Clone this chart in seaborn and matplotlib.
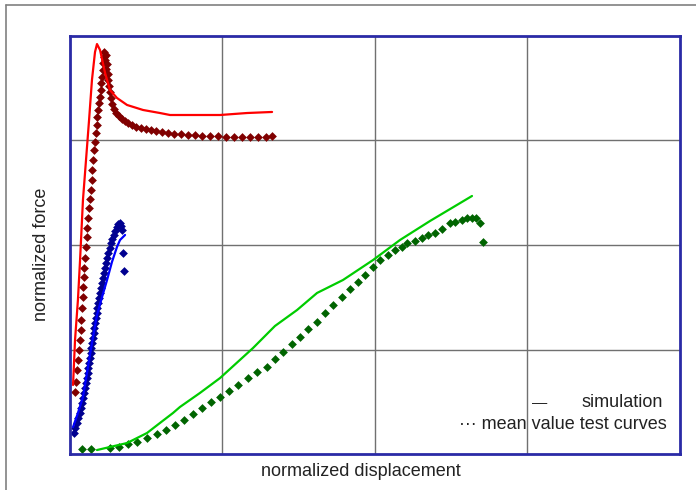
import matplotlib
matplotlib.use("Agg")
import matplotlib.pyplot as plt
import seaborn as sns
from matplotlib.lines import Line2D

# ---- data (normalized units; grid every 1.0) ----
red_sim_x = [0.020, 0.033, 0.052, 0.066, 0.085, 0.105, 0.125, 0.144, 0.164, 0.177, 0.197, 0.230,
             0.262, 0.308, 0.374, 0.479, 0.590, 0.656, 0.984, 1.161, 1.325]
red_sim_y = [0.660, 1.091, 1.474, 1.857, 2.431, 2.813, 3.196, 3.579, 3.847, 3.923, 3.866, 3.646,
             3.483, 3.407, 3.340, 3.292, 3.263, 3.244, 3.244, 3.263, 3.273]

red_test_x = [0.033, 0.039, 0.046, 0.052, 0.059, 0.066, 0.072, 0.072, 0.079, 0.085, 0.085, 0.092,
              0.092, 0.098, 0.105, 0.111, 0.111, 0.118, 0.125, 0.131, 0.138, 0.144, 0.144, 0.151,
              0.157, 0.164, 0.170, 0.177, 0.177, 0.184, 0.190, 0.197, 0.203, 0.203, 0.210, 0.216,
              0.216, 0.223, 0.223, 0.236, 0.230, 0.243, 0.236, 0.249, 0.249, 0.256, 0.262, 0.269,
              0.275, 0.289, 0.302, 0.321, 0.341, 0.361, 0.380, 0.407, 0.433, 0.466, 0.498, 0.531,
              0.564, 0.603, 0.643, 0.682, 0.728, 0.774, 0.820, 0.866, 0.918, 0.970, 1.023, 1.075,
              1.128, 1.180, 1.233, 1.285, 1.325]
red_test_y = [0.593, 0.689, 0.804, 0.900, 0.995, 1.091, 1.187, 1.282, 1.397, 1.502, 1.598, 1.694,
              1.780, 1.876, 1.981, 2.077, 2.163, 2.258, 2.354, 2.440, 2.526, 2.622, 2.718, 2.813,
              2.909, 2.986, 3.072, 3.148, 3.225, 3.292, 3.359, 3.416, 3.483, 3.550, 3.608, 3.675,
              3.742, 3.799, 3.847, 3.818, 3.770, 3.732, 3.684, 3.636, 3.579, 3.522, 3.464, 3.407,
              3.349, 3.301, 3.263, 3.234, 3.206, 3.187, 3.167, 3.148, 3.129, 3.120, 3.110, 3.100,
              3.091, 3.081, 3.072, 3.062, 3.062, 3.053, 3.053, 3.043, 3.043, 3.043, 3.033, 3.033,
              3.033, 3.033, 3.033, 3.033, 3.043]

blue_sim_x = [0.020, 0.052, 0.085, 0.118, 0.144, 0.177, 0.210, 0.243, 0.275, 0.308, 0.328, 0.361]
blue_sim_y = [0.258, 0.392, 0.545, 0.833, 1.062, 1.330, 1.502, 1.665, 1.837, 1.981, 2.048, 2.096]

blue_test_x = [0.026, 0.033, 0.046, 0.052, 0.066, 0.072, 0.079, 0.085, 0.092, 0.098, 0.105, 0.111,
               0.118, 0.118, 0.125, 0.131, 0.138, 0.138, 0.144, 0.151, 0.157, 0.157, 0.164, 0.170,
               0.177, 0.177, 0.184, 0.190, 0.197, 0.203, 0.210, 0.216, 0.223, 0.230, 0.236, 0.243,
               0.249, 0.262, 0.269, 0.275, 0.289, 0.295, 0.308, 0.315, 0.328, 0.334, 0.341, 0.348,
               0.354]
blue_test_y = [0.201, 0.249, 0.297, 0.344, 0.392, 0.440, 0.488, 0.536, 0.584, 0.632, 0.679, 0.727,
               0.775, 0.823, 0.871, 0.919, 0.967, 1.014, 1.062, 1.110, 1.158, 1.206, 1.254, 1.301,
               1.349, 1.397, 1.445, 1.493, 1.541, 1.589, 1.636, 1.684, 1.732, 1.780, 1.828, 1.876,
               1.923, 1.971, 2.019, 2.057, 2.096, 2.134, 2.172, 2.201, 2.211, 2.182, 2.144, 1.923,
               1.751]

green_sim_x = [0.177, 0.262, 0.374, 0.505, 0.590, 0.675, 0.721, 0.852, 0.984, 1.200, 1.344, 1.489,
               1.620, 1.790, 1.987, 2.164, 2.361, 2.636]
green_sim_y = [0.038, 0.067, 0.105, 0.201, 0.297, 0.392, 0.450, 0.584, 0.727, 1.014, 1.225, 1.378,
               1.541, 1.665, 1.856, 2.048, 2.230, 2.469]

green_test_x = [0.079, 0.138, 0.262, 0.321, 0.380, 0.439, 0.505, 0.570, 0.630, 0.689, 0.748, 0.807,
                0.866, 0.925, 0.984, 1.043, 1.102, 1.167, 1.226, 1.292, 1.344, 1.397, 1.456, 1.508,
                1.561, 1.620, 1.672, 1.725, 1.784, 1.836, 1.889, 1.934, 1.987, 2.033, 2.085, 2.131,
                2.177, 2.210, 2.262, 2.308, 2.348, 2.393, 2.439, 2.492, 2.525, 2.570, 2.603, 2.636,
                2.662, 2.689, 2.708]
green_test_y = [0.048, 0.048, 0.057, 0.067, 0.096, 0.115, 0.153, 0.191, 0.230, 0.278, 0.325, 0.383,
                0.440, 0.498, 0.545, 0.603, 0.660, 0.727, 0.785, 0.833, 0.909, 0.976, 1.053, 1.120,
                1.196, 1.263, 1.349, 1.426, 1.502, 1.579, 1.646, 1.713, 1.789, 1.856, 1.904, 1.952,
                1.981, 2.019, 2.038, 2.067, 2.096, 2.115, 2.153, 2.211, 2.220, 2.239, 2.258, 2.258,
                2.258, 2.211, 2.029]

x_label = "normalized displacement"
y_label = "normalized force"
legend_sim = "simulation"
legend_test = "mean value test curves"

# ---- figure ----
sns.set_style("white")
plt.rcParams['font.family'] = ['Liberation Sans', 'DejaVu Sans']

fig = plt.figure(figsize=(6.96, 4.90), dpi=100)
ax = fig.add_axes([70/696, 1 - 454/490, 610/696, 418/490])

# outer frame of the figure (left and top edges)
fig.add_artist(Line2D([6/696, 6/696], [0, 1 - 5/490], transform=fig.transFigure,
                      color='#808080', lw=1.2))
fig.add_artist(Line2D([6/696, 1], [1 - 5/490, 1 - 5/490], transform=fig.transFigure,
                      color='#808080', lw=1.2))

mk = dict(marker='D', s=20, linewidth=0, legend=False, ax=ax)

sns.scatterplot(x=red_test_x, y=red_test_y, color='#800000', **mk)
sns.scatterplot(x=blue_test_x, y=blue_test_y, color='#000090', **mk)
sns.scatterplot(x=green_test_x, y=green_test_y, color='#006400', **mk)

sns.lineplot(x=red_sim_x, y=red_sim_y, sort=False, color='#ff0000', lw=1.6, ax=ax)
sns.lineplot(x=blue_sim_x, y=blue_sim_y, sort=False, color='#0000ff', lw=1.6, ax=ax)
sns.lineplot(x=green_sim_x, y=green_sim_y, sort=False, color='#00cc00', lw=1.6, ax=ax)

ax.set_xlim(0, 4)
ax.set_ylim(0, 4)
ax.set_xticks([1, 2, 3])
ax.set_yticks([1, 2, 3])
ax.grid(True, color='#707070', lw=1.0)
ax.set_axisbelow(True)
ax.tick_params(length=0, labelbottom=False, labelleft=False)
ax.set_xlabel("")
ax.set_ylabel("")
for s in ax.spines.values():
    s.set_color('#2a2aa6')
    s.set_linewidth(2.0)

# axis titles
fig.text(361/696, 1 - 471/490, x_label, fontsize=13, color='#222222',
         ha='center', va='center')
fig.text(41/696, 1 - 254/490, y_label, fontsize=13, color='#222222',
         ha='center', va='center', rotation=90)

# legend-like texts in the lower right of the plot
ax.text(3.08, 0.49, "\u2014", fontsize=11, color='#222222', ha='center', va='center')
ax.text(3.89, 0.49, legend_sim, fontsize=13, color='#222222', ha='right', va='center')
ax.text(3.91, 0.285, "\u00b7\u00b7\u00b7 " + legend_test, fontsize=13, color='#222222',
        ha='right', va='center')

fig.savefig("out.png", dpi=100)
